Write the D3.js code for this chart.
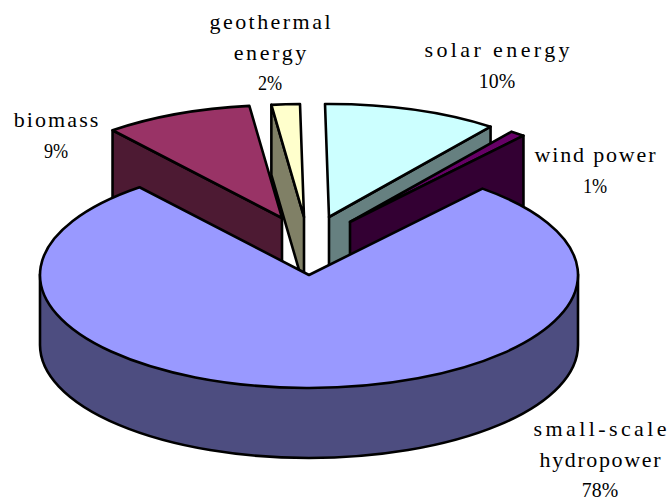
<!DOCTYPE html>
<html>
<head>
<meta charset="utf-8">
<script src="https://cdn.jsdelivr.net/npm/d3@7"></script>
<style>
  html, body { margin: 0; padding: 0; background: #fff; }
  svg { display: block; }
  text { font-family: "Liberation Serif", serif; font-size: 22px; fill: #000; }
</style>
</head>
<body>
<svg width="672" height="502"></svg>
<script>
// values, clockwise from the top
var categories = ["solar energy", "wind power", "small-scale hydropower", "biomass", "geothermal energy"];
var shares = [10.49, 0.9, 78, 8.91, 1.7];
var labelLines = [["solar energy"], ["wind power"], ["small-scale", "hydropower"], ["biomass"], ["geothermal", "energy"]];
var topColors = ["#ccffff", "#660066", "#9999ff", "#993366", "#ffffcc"];
var sideColors = ["#668080", "#330033", "#4d4d80", "#4d1a33", "#808066"];

// where each slice's tip sits once pulled out, and where its label goes
var apexes = [[329, 217], [350, 222], [309, 275], [282, 218], [304, 217]];
var labelPos = [[497, 57], [595, 162], [600, 436], [56, 127], [270, 29]];

var rx = 269, ry = 113, depth = 70;
var rotation = -0.85 * Math.PI / 180;
var charWidth = 12.1;

var svg = d3.select("svg");

var slices = d3.pie()
    .sort(null)
    .startAngle(rotation)
    .endAngle(rotation + 2 * Math.PI)
    .value(function(d) { return d; })(shares);

var arc = d3.arc().innerRadius(0).outerRadius(rx);
var line = d3.line();

function rim(i, a) {
  return [apexes[i][0] + rx * Math.sin(a), apexes[i][1] - ry * Math.cos(a)];
}

// one flat wall going down from the radial edge at angle a
function wall(i, a) {
  var p = rim(i, a), c = apexes[i];
  return line([c, p, [p[0], p[1] + depth], [c[0], c[1] + depth]]) + "Z";
}

function drawTop(i) {
  svg.append("path")
      .attr("d", arc(slices[i]))
      .attr("transform", "translate(" + apexes[i] + ") scale(1," + (ry / rx) + ")")
      .attr("vector-effect", "non-scaling-stroke")
      .attr("fill", topColors[i])
      .attr("stroke", "#000")
      .attr("stroke-width", 2.6)
      .attr("stroke-linejoin", "round");
}

function drawWall(i, a) {
  svg.append("path")
      .attr("d", wall(i, a))
      .attr("fill", sideColors[i])
      .attr("stroke", "#000")
      .attr("stroke-width", 2.6)
      .attr("stroke-linejoin", "round");
}

// back to front
drawWall(4, slices[4].startAngle);
drawTop(4);
drawWall(0, slices[0].endAngle);
drawTop(0);
drawWall(3, slices[3].startAngle);
drawTop(3);
drawTop(1);
drawWall(1, slices[1].endAngle);

// big slice: rounded outer side, then the top on it
var hx = apexes[2][0], hy = apexes[2][1];
svg.append("path")
    .attr("d", "M" + (hx - rx) + "," + hy +
      "L" + (hx - rx) + "," + (hy + depth) +
      "A" + rx + "," + ry + " 0 0 0 " + (hx + rx) + "," + (hy + depth) +
      "L" + (hx + rx) + "," + hy + "Z")
    .attr("fill", sideColors[2])
    .attr("stroke", "#000")
    .attr("stroke-width", 2.6);
drawTop(2);

// labels, fitted to the half-width spacing of the original font
categories.forEach(function(name, i) {
  var t = svg.append("text")
      .attr("text-anchor", "middle")
      .attr("transform", "translate(" + labelPos[i] + ")");
  labelLines[i].forEach(function(s, j) {
    t.append("tspan")
        .attr("x", 0)
        .attr("y", j * 30.5)
        .attr("textLength", s.length * charWidth)
        .attr("lengthAdjust", "spacing")
        .text(s);
  });
  var pct = Math.round(shares[i]) + "%";
  t.append("tspan")
      .attr("x", 0)
      .attr("y", labelLines[i].length * 30.5)
      .attr("textLength", pct.length * charWidth)
      .attr("lengthAdjust", "spacingAndGlyphs")
      .text(pct);
});
</script>
</body>
</html>
